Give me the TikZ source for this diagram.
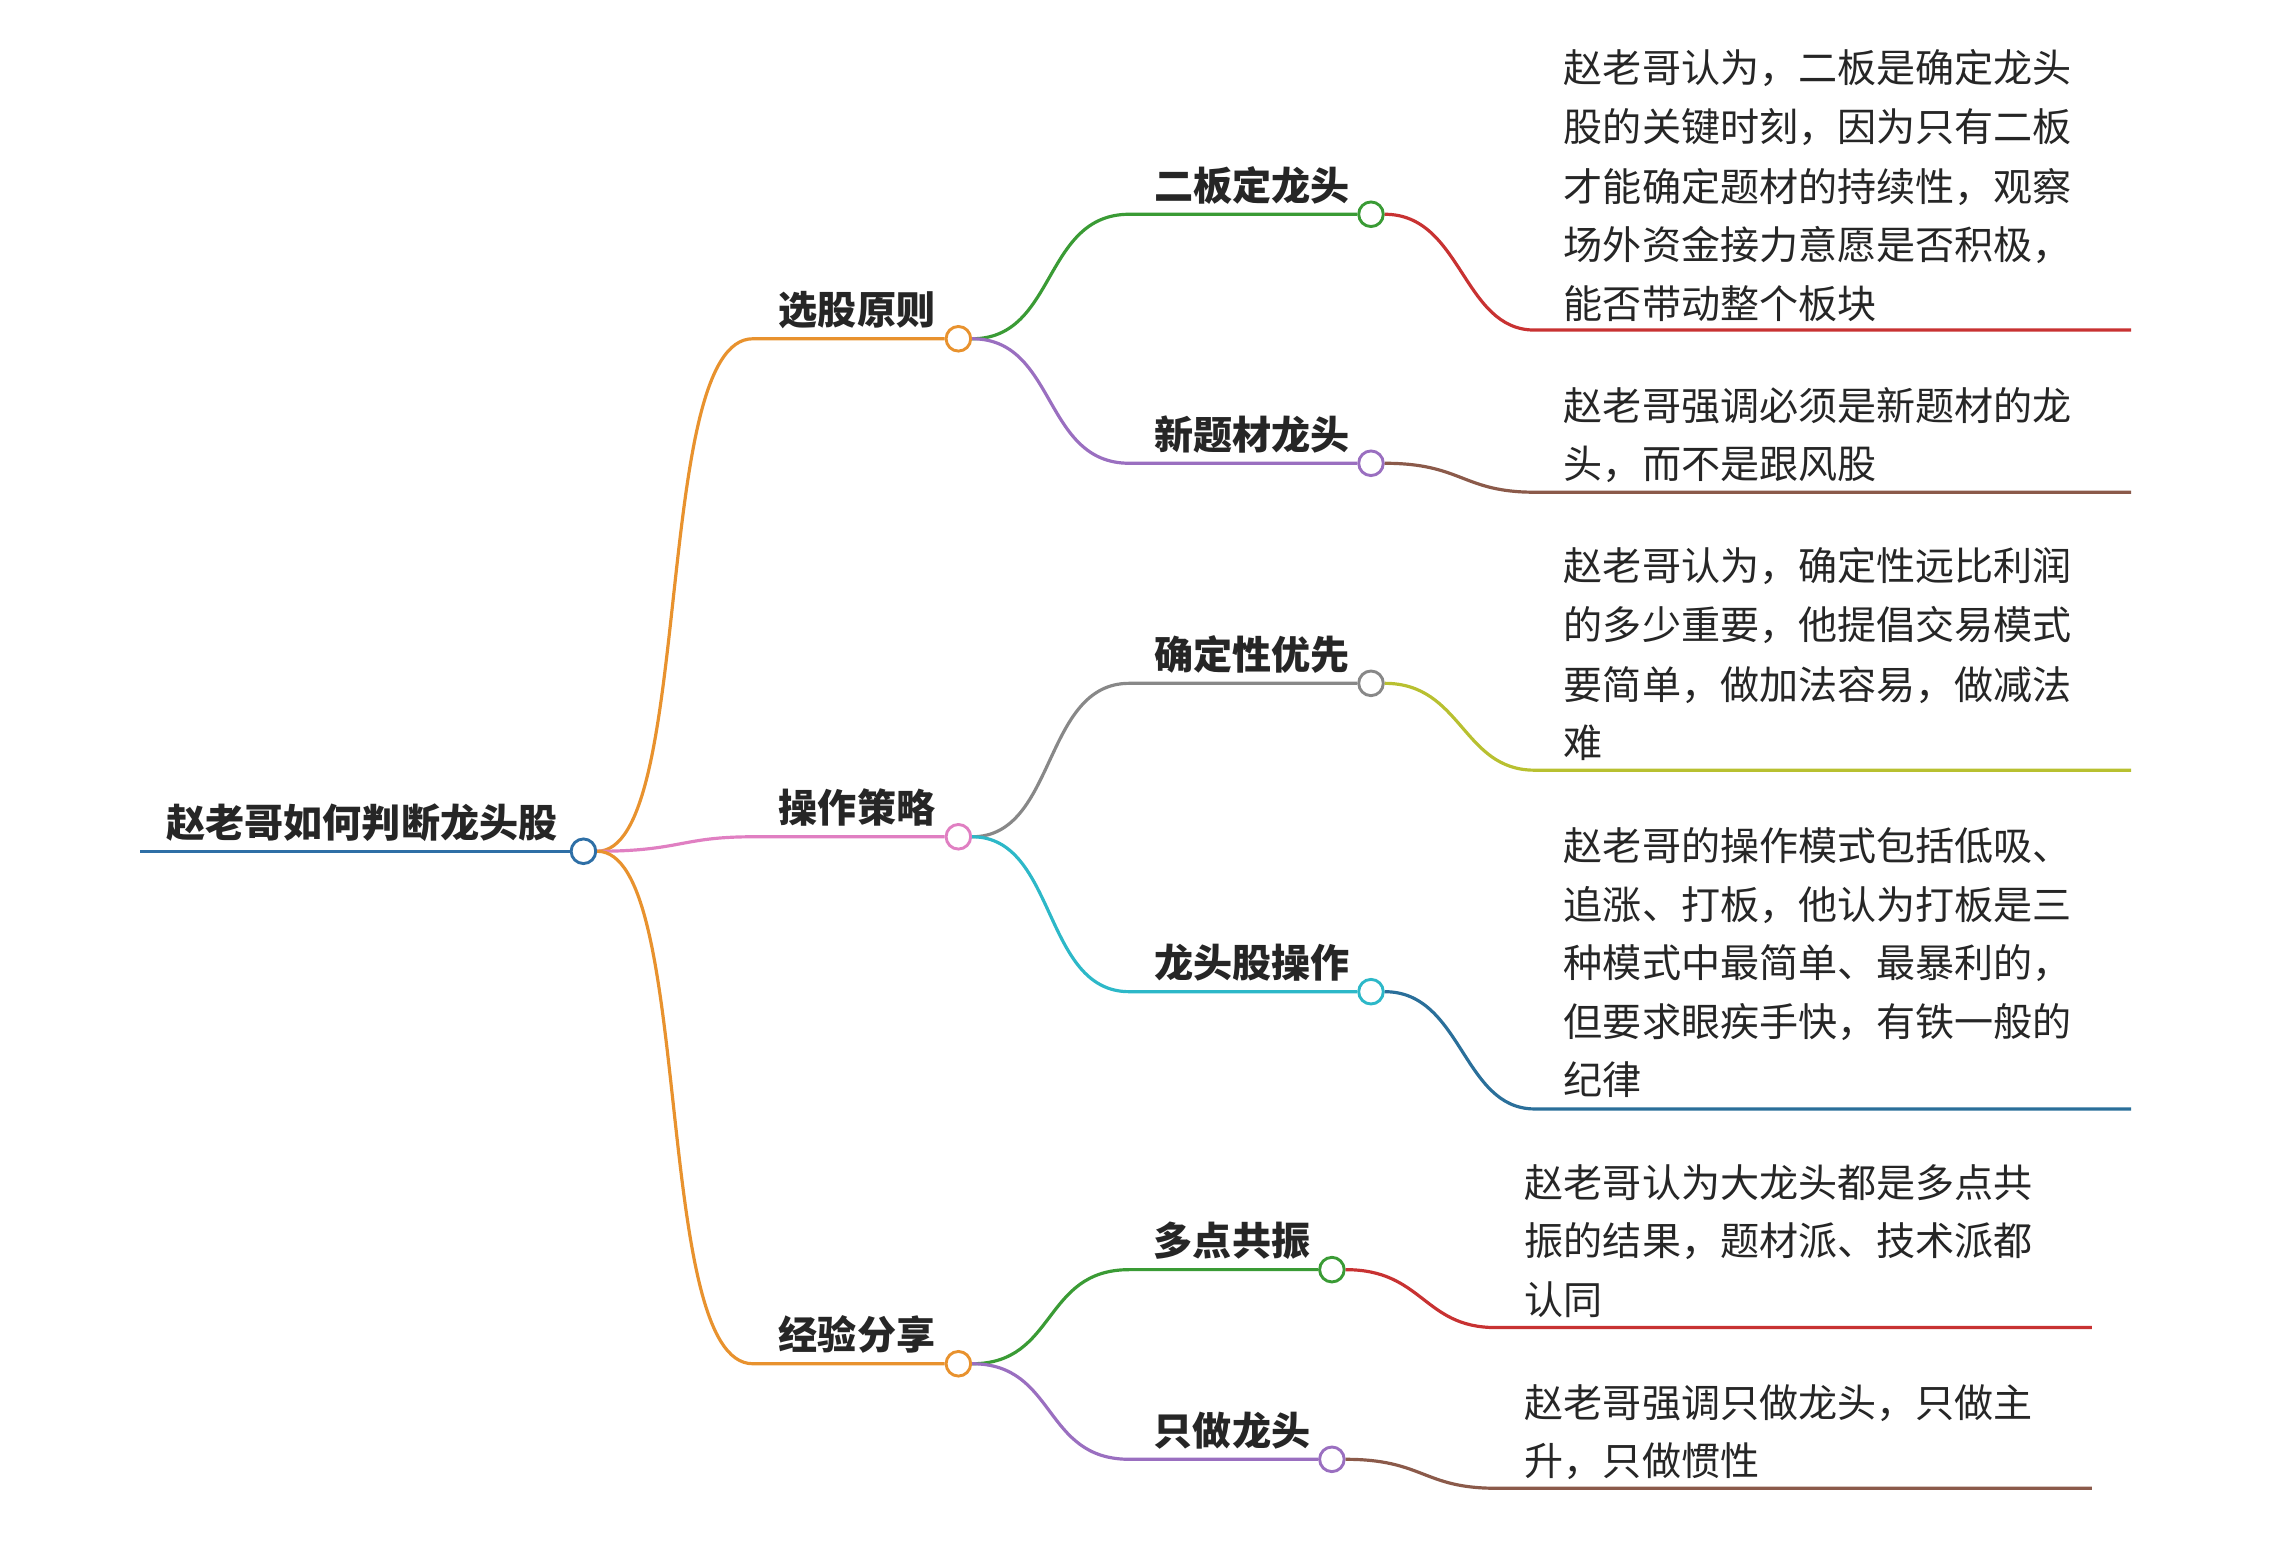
\documentclass[tikz,border=0pt]{standalone}
\usepackage{fontspec}
\setmainfont{Noto Sans CJK SC}
\definecolor{corange}{HTML}{E8922E}
\definecolor{cpink}{HTML}{E07FC2}
\definecolor{cblue}{HTML}{2E6FA6}
\definecolor{cgreen}{HTML}{3A9B35}
\definecolor{cpurple}{HTML}{9A6FC0}
\definecolor{cgray}{HTML}{888888}
\definecolor{ccyan}{HTML}{2DB8C8}
\definecolor{cred}{HTML}{C83232}
\definecolor{cbrown}{HTML}{8B5A4A}
\definecolor{cyg}{HTML}{B8C030}
\definecolor{cdblue}{HTML}{2A6F9A}
\begin{document}
\begin{tikzpicture}[x=1pt,y=-1pt,
 dot/.style={circle,draw=#1,fill=white,line width=2pt,minimum size=17pt,inner sep=0pt},
 lbl/.style={font=\fontsize{27}{30}\selectfont\bfseries,text=black!85,anchor=center,inner sep=0pt},
 txt/.style={font=\fontsize{27}{30}\selectfont,text=black!85,anchor=west,inner sep=0pt},
 edge/.style={line width=2.2pt,draw=#1}]
\useasboundingbox (0,0) rectangle (1568,1065);
% root
\coordinate (r0) at (97,588);
\node[dot=cblue] (r) at (403,588) {};
\draw[edge=cblue] (r0) -- (r.west);
\node[lbl] (rt) at (250,568) {赵老哥如何判断龙头股};
% level 1
\node[dot=corange] (a) at (662,234) {};
\node[dot=cpink] (b) at (662,578) {};
\node[dot=corange] (c) at (662,942) {};
\coordinate (a0) at (520,234);
\coordinate (b0) at (520,578);
\coordinate (c0) at (520,942);
\draw[edge=corange] (r.east) .. controls (480,588) and (450,234) .. (a0) -- (a.west);
\draw[edge=cpink] (r.east) .. controls (470,588) and (470,578) .. (b0) -- (b.west);
\draw[edge=corange] (r.east) .. controls (480,588) and (450,942) .. (c0) -- (c.west);
\node[lbl] (at) at (592,214) {选股原则};
\node[lbl] (bt) at (592,558) {操作策略};
\node[lbl] (ct) at (592,922) {经验分享};
% level 2
\node[dot=cgreen] (a1) at (947,148) {};
\node[dot=cpurple] (a2) at (947,320) {};
\node[dot=cgray] (b1) at (947,472) {};
\node[dot=ccyan] (b2) at (947,685) {};
\node[dot=cgreen] (c1) at (920,877) {};
\node[dot=cpurple] (c2) at (920,1008) {};
\coordinate (a10) at (780,148);
\coordinate (a20) at (780,320);
\coordinate (b10) at (780,472);
\coordinate (b20) at (780,685);
\coordinate (c10) at (780,877);
\coordinate (c20) at (780,1008);
\draw[edge=cgreen] (a.east) .. controls (730,234) and (720,148) .. (a10) -- (a1.west);
\draw[edge=cpurple] (a.east) .. controls (730,234) and (720,320) .. (a20) -- (a2.west);
\draw[edge=cgray] (b.east) .. controls (730,578) and (720,472) .. (b10) -- (b1.west);
\draw[edge=ccyan] (b.east) .. controls (730,578) and (720,685) .. (b20) -- (b2.west);
\draw[edge=cgreen] (c.east) .. controls (730,942) and (720,877) .. (c10) -- (c1.west);
\draw[edge=cpurple] (c.east) .. controls (730,942) and (720,1008) .. (c20) -- (c2.west);
\node[lbl] (a1t) at (865,128) {二板定龙头};
\node[lbl] (a2t) at (865,300) {新题材龙头};
\node[lbl] (b1t) at (865,452) {确定性优先};
\node[lbl] (b2t) at (865,665) {龙头股操作};
\node[lbl] (c1t) at (851,857) {多点共振};
\node[lbl] (c2t) at (851,988) {只做龙头};
% level 3 lines
\coordinate (a1e) at (1472,228); \coordinate (a1s) at (1060,228);
\coordinate (a2e) at (1472,340); \coordinate (a2s) at (1060,340);
\coordinate (b1e) at (1472,532); \coordinate (b1s) at (1060,532);
\coordinate (b2e) at (1472,766); \coordinate (b2s) at (1060,766);
\coordinate (c1e) at (1445,917); \coordinate (c1s) at (1033,917);
\coordinate (c2e) at (1445,1028); \coordinate (c2s) at (1033,1028);
\draw[edge=cred] (a1.east) .. controls (1010,148) and (1010,228) .. (a1s) -- (a1e);
\draw[edge=cbrown] (a2.east) .. controls (1010,320) and (1010,340) .. (a2s) -- (a2e);
\draw[edge=cyg] (b1.east) .. controls (1010,472) and (1010,532) .. (b1s) -- (b1e);
\draw[edge=cdblue] (b2.east) .. controls (1010,685) and (1010,766) .. (b2s) -- (b2e);
\draw[edge=cred] (c1.east) .. controls (983,877) and (983,917) .. (c1s) -- (c1e);
\draw[edge=cbrown] (c2.east) .. controls (983,1008) and (983,1028) .. (c2s) -- (c2e);
% texts
\node[txt] (t11) at (1080,47) {赵老哥认为，二板是确定龙头};
\node[txt] (t12) at (1080,88) {股的关键时刻，因为只有二板};
\node[txt] (t13) at (1080,129) {才能确定题材的持续性，观察};
\node[txt] (t14) at (1080,169) {场外资金接力意愿是否积极，};
\node[txt] (t15) at (1080,210) {能否带动整个板块};
\node[txt] (t21) at (1080,280) {赵老哥强调必须是新题材的龙};
\node[txt] (t22) at (1080,321) {头，而不是跟风股};
\node[txt] (t31) at (1080,391) {赵老哥认为，确定性远比利润};
\node[txt] (t32) at (1080,432) {的多少重要，他提倡交易模式};
\node[txt] (t33) at (1080,473) {要简单，做加法容易，做减法};
\node[txt] (t34) at (1080,513) {难};
\node[txt] (t41) at (1080,584) {赵老哥的操作模式包括低吸、};
\node[txt] (t42) at (1080,625) {追涨、打板，他认为打板是三};
\node[txt] (t43) at (1080,665) {种模式中最简单、最暴利的，};
\node[txt] (t44) at (1080,706) {但要求眼疾手快，有铁一般的};
\node[txt] (t45) at (1080,746) {纪律};
\node[txt] (t51) at (1053,817) {赵老哥认为大龙头都是多点共};
\node[txt] (t52) at (1053,857) {振的结果，题材派、技术派都};
\node[txt] (t53) at (1053,898) {认同};
\node[txt] (t61) at (1053,969) {赵老哥强调只做龙头，只做主};
\node[txt] (t62) at (1053,1009) {升，只做惯性};
\end{tikzpicture}
\end{document}
